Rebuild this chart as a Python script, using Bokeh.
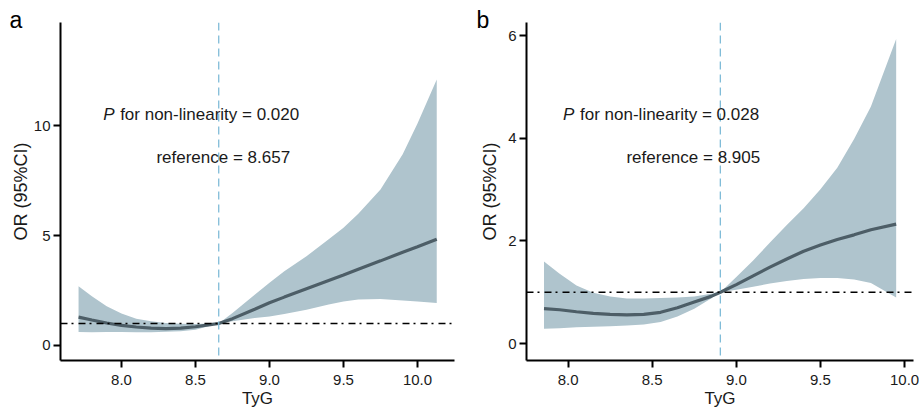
from bokeh.plotting import figure
from bokeh.layouts import row
from bokeh.models import Span, Label, FixedTicker, NumeralTickFormatter, Range1d, Title
from bokeh.embed import file_html
from bokeh.resources import INLINE

# ---- Panel a data ----
a_x = [7.71, 7.8, 7.9, 8.0, 8.1, 8.2, 8.3, 8.4, 8.5, 8.6, 8.657, 8.75, 8.9, 9.0, 9.1, 9.25, 9.4, 9.5, 9.6, 9.75, 9.9, 10.0, 10.13]
a_or = [1.29, 1.16, 1.02, 0.91, 0.84, 0.79, 0.77, 0.79, 0.85, 0.95, 1.0, 1.22, 1.65, 1.94, 2.2, 2.58, 2.96, 3.21, 3.47, 3.85, 4.24, 4.49, 4.83]
a_lo = [0.61, 0.6, 0.61, 0.61, 0.6, 0.6, 0.62, 0.65, 0.72, 0.9, 1.0, 1.1, 1.25, 1.32, 1.43, 1.63, 1.86, 2.0, 2.09, 2.12, 2.05, 2.0, 1.93]
a_hi = [2.69, 2.24, 1.78, 1.45, 1.22, 1.1, 1.02, 0.99, 0.98, 1.0, 1.0, 1.48, 2.31, 2.85, 3.38, 4.06, 4.83, 5.36, 6.0, 7.1, 8.7, 10.1, 12.1]
a_ref = 8.657
a_p = "0.020"

# ---- Panel b data ----
b_x = [7.857, 7.95, 8.05, 8.15, 8.25, 8.35, 8.45, 8.55, 8.65, 8.75, 8.85, 8.905, 9.0, 9.1, 9.2, 9.3, 9.4, 9.5, 9.6, 9.7, 9.8, 9.95]
b_or = [0.68, 0.66, 0.62, 0.59, 0.57, 0.56, 0.57, 0.61, 0.7, 0.81, 0.92, 1.0, 1.15, 1.32, 1.49, 1.65, 1.8, 1.92, 2.03, 2.12, 2.22, 2.33]
b_lo = [0.29, 0.3, 0.32, 0.33, 0.34, 0.35, 0.37, 0.42, 0.53, 0.68, 0.88, 1.0, 1.05, 1.11, 1.17, 1.22, 1.26, 1.28, 1.28, 1.25, 1.18, 0.9]
b_hi = [1.6, 1.36, 1.13, 0.99, 0.92, 0.88, 0.88, 0.89, 0.9, 0.92, 0.97, 1.0, 1.3, 1.62, 1.97, 2.31, 2.64, 3.01, 3.43, 3.99, 4.62, 5.94]
b_ref = 8.905
b_p = "0.028"

x_ticks = [8.0, 8.5, 9.0, 9.5, 10.0]
a_yticks = [0, 5, 10]
b_yticks = [0, 2, 4, 6]

FONT = "Liberation Sans"
BAND = "#afc4cd"
LINE = "#4d5e67"
REFC = "#80bcd8"
TXT = "#1a1a1a"


def panel(x, orv, lo, hi, ref, pval, xr, yr, yticks, width, bl, br, ylab_standoff,
          p_pos, r_pos, letter, letter_off, gap="= "):
    p = figure(width=width, height=410, output_backend="svg", toolbar_location=None,
               x_range=Range1d(*xr), y_range=Range1d(*yr),
               min_border_left=bl, min_border_right=br, min_border_top=22, min_border_bottom=0)
    p.outline_line_color = None
    p.grid.visible = False
    p.background_fill_color = "white"
    p.border_fill_color = "white"

    p.varea(x=x, y1=lo, y2=hi, fill_color=BAND, fill_alpha=1.0)
    p.line(x=x, y=orv, line_color=LINE, line_width=3.2)
    p.add_layout(Span(location=1, dimension="width", line_color="black",
                      line_width=1.6, line_dash="7 4 2 5"))
    p.add_layout(Span(location=ref, dimension="height", line_color=REFC,
                      line_width=1.3, line_dash="8 5"))

    for ax in (p.xaxis[0], p.yaxis[0]):
        ax.axis_line_width = 2
        ax.axis_line_color = "black"
        ax.major_tick_line_width = 2
        ax.major_tick_line_color = "black"
        ax.major_tick_out = 7
        ax.major_tick_in = 0
        ax.minor_tick_line_color = None
        ax.major_label_text_font = FONT
        ax.major_label_text_font_size = "15px"
        ax.major_label_text_color = TXT
        ax.axis_label_text_font = FONT
        ax.axis_label_text_font_style = "normal"
        ax.axis_label_text_color = TXT

    p.xaxis.ticker = FixedTicker(ticks=x_ticks)
    p.xaxis.formatter = NumeralTickFormatter(format="0.0")
    p.xaxis.axis_label = "TyG"
    p.xaxis.axis_label_text_font_size = "17px"
    p.xaxis.major_label_standoff = 7
    p.xaxis.axis_label_standoff = 1

    p.yaxis.ticker = FixedTicker(ticks=yticks)
    p.yaxis.axis_label = "OR (95%CI)"
    p.yaxis.axis_label_text_font_size = "18px"
    p.yaxis.major_label_standoff = 3
    p.yaxis.axis_label_standoff = ylab_standoff

    p.add_layout(Label(x=p_pos[0], y=p_pos[1], text="P", text_font=FONT,
                       text_font_style="italic", text_font_size="17px",
                       text_baseline="middle", text_color=TXT))
    p.add_layout(Label(x=p_pos[0], y=p_pos[1], x_offset=17,
                       text="for non-linearity " + gap + pval, text_font=FONT,
                       text_font_size="17px", text_baseline="middle", text_color=TXT))
    p.add_layout(Label(x=r_pos[0], y=r_pos[1], text="reference = %.3f" % ref,
                       text_font=FONT, text_font_size="17px", text_baseline="middle",
                       text_color=TXT))
    p.add_layout(Title(text=letter, text_font=FONT, text_font_size="23px",
                       text_font_style="normal", text_color="black", align="left",
                       offset=letter_off, standoff=-20, vertical_align="bottom"), "above")
    return p


pa = panel(a_x, a_or, a_lo, a_hi, a_ref, a_p, (7.588, 10.25), (-0.685, 14.7), a_yticks,
           462, 60, 8, 0, (7.876, 10.5), (8.236, 8.54), "a", -51)
pb = panel(b_x, b_or, b_lo, b_hi, b_ref, b_p, (7.753, 10.053), (-0.33, 6.26), b_yticks,
           457, 64, 6, 5, (7.97, 4.46), (8.347, 3.63), "b", -50, gap="=  ")

layout = row(pa, pb)
open("out.html", "w").write(file_html(layout, INLINE))
